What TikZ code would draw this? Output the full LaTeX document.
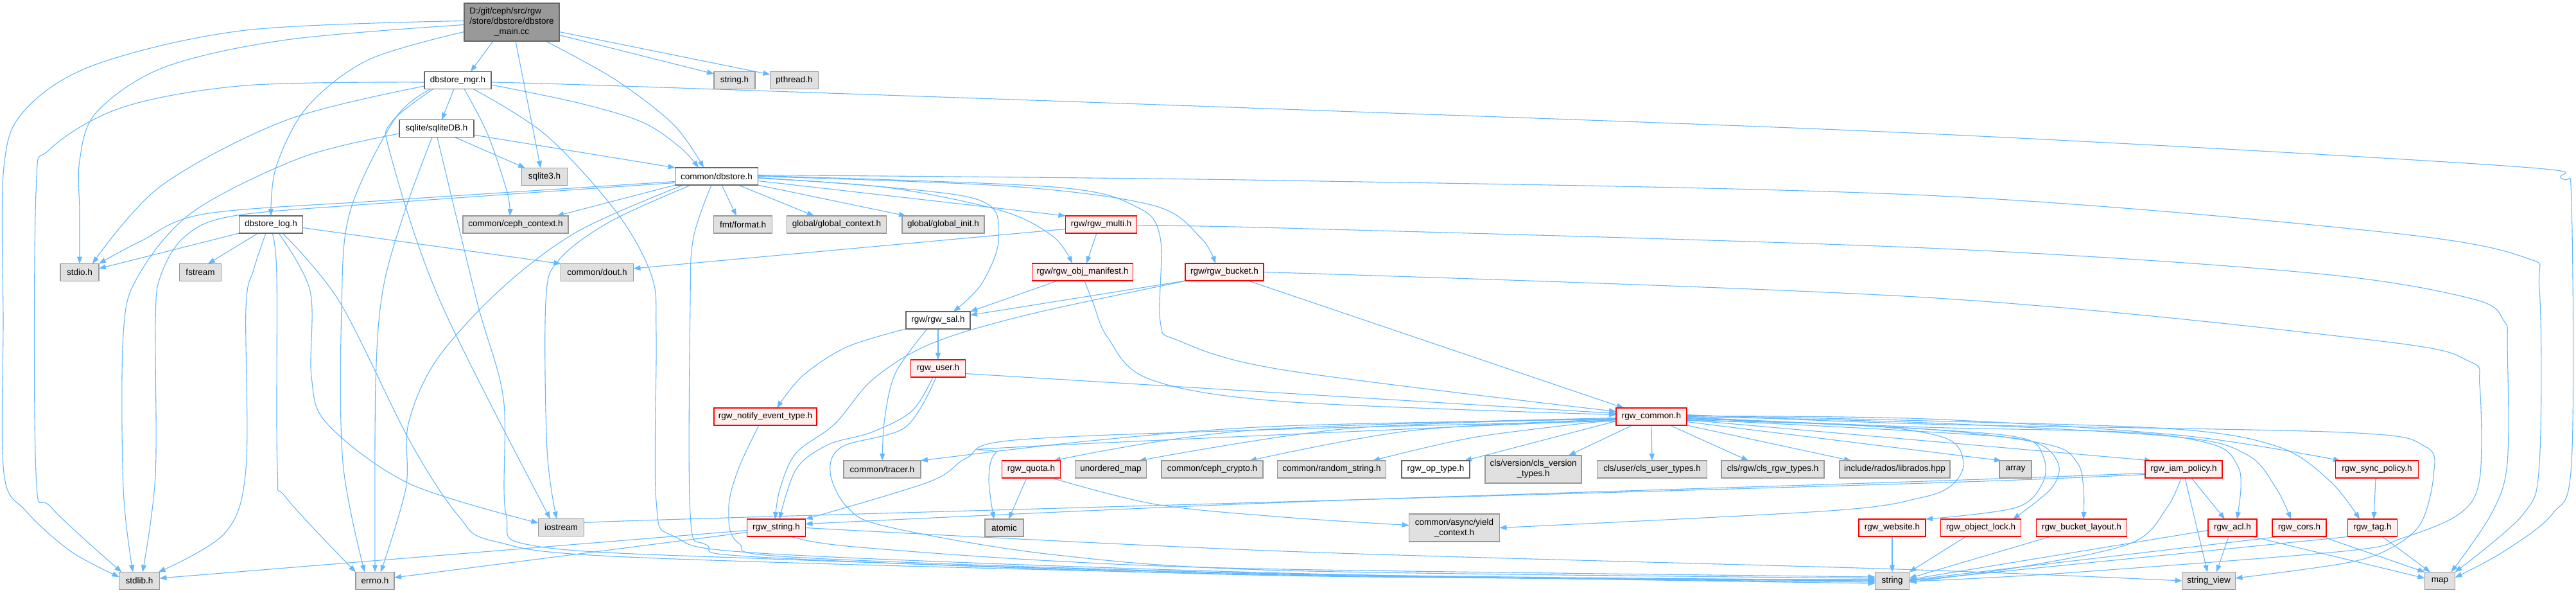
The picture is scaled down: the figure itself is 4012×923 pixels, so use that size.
\documentclass[tikz,border=0pt]{standalone}
\usepackage{fontspec}
\setmainfont{Liberation Sans}
\usetikzlibrary{arrows.meta}
\pgfdeclarelayer{bg}
\pgfdeclarelayer{edges}
\pgfsetlayers{bg,edges,main}
\definecolor{edgecol}{HTML}{63B8FF}
\definecolor{extfill}{HTML}{E0E0E0}
\definecolor{extdraw}{HTML}{999999}
\definecolor{hidfill}{HTML}{FFF0F0}
\definecolor{hiddraw}{HTML}{FF0000}
\definecolor{whtdraw}{HTML}{666666}
\definecolor{mainfill}{HTML}{999999}
\begin{document}
\begin{tikzpicture}[x=1pt,y=-1pt,
 box/.style={line width=1.4pt, minimum height=27pt, inner sep=0pt, outer sep=0pt, font=\fontsize{13.5pt}{16pt}\selectfont},
 ext/.style={box, fill=extfill, draw=extdraw},
 hid/.style={box, fill=hidfill, draw=hiddraw},
 wht/.style={box, fill=white, draw=whtdraw},
 edge/.style={draw=edgecol, line width=1.1pt, -{Triangle[length=11pt,width=8pt]}}]
\begin{pgfonlayer}{bg}
\fill[white] (0,0) rectangle (4012,923);
\end{pgfonlayer}
\useasboundingbox (0,0) rectangle (4012,923);

% ---------- nodes ----------
\node[box, fill=mainfill, draw=whtdraw, minimum width=148pt, minimum height=59pt] (main) at (797,34.5)
 {\begin{tabular}{@{}l@{}}D:/git/ceph/src/rgw\\/store/dbstore/dbstore\\\multicolumn{1}{@{}c@{}}{\_main.cc}\end{tabular}};
\node[wht, minimum width=104pt] (mgr) at (713,125) {dbstore\_mgr.h};
\node[wht, minimum width=116pt] (sqlitedb) at (680,200) {sqlite/sqliteDB.h};
\node[ext, minimum width=71pt] (sqlite3) at (848,275) {sqlite3.h};
\node[ext, minimum width=164pt] (cephctx) at (803,349.5) {common/ceph\_context.h};
\node[wht, minimum width=99pt] (dblog) at (422,349.5) {dbstore\_log.h};
\node[ext, minimum width=60pt] (stdio) at (124,424) {stdio.h};
\node[ext, minimum width=65pt] (fstream) at (312,424) {fstream};
\node[ext, minimum width=113pt] (dout) at (930,424) {common/dout.h};
\node[ext, minimum width=64pt] (stringh) at (1144,125) {string.h};
\node[ext, minimum width=75pt] (pthread) at (1237,125) {pthread.h};
\node[wht, minimum width=129pt] (dbstore) at (1116,274.5) {common/dbstore.h};
\node[ext, minimum width=91pt] (fmt) at (1157,349.5) {fmt/format.h};
\node[ext, minimum width=155pt] (gctx) at (1303,349.5) {global/global\_context.h};
\node[ext, minimum width=128pt] (ginit) at (1469,349.5) {global/global\_init.h};
\node[hid, minimum width=111pt] (multi) at (1715,349.5) {rgw/rgw\_multi.h};
\node[hid, minimum width=157pt] (manifest) at (1686,423.5) {rgw/rgw\_obj\_manifest.h};
\node[hid, minimum width=122pt] (bucket) at (1907,423.5) {rgw/rgw\_bucket.h};
\node[wht, minimum width=100pt] (sal) at (1461,498.5) {rgw/rgw\_sal.h};
\node[hid, minimum width=85pt] (user) at (1461,573.5) {rgw\_user.h};
\node[hid, minimum width=160pt] (notify) at (1192,648.5) {rgw\_notify\_event\_type.h};
\node[hid, minimum width=110pt] (common) at (2572,648.5) {rgw\_common.h};
\node[ext, minimum width=120pt] (tracer) at (1374,730.5) {common/tracer.h};
\node[hid, minimum width=91pt] (quota) at (1606,730.5) {rgw\_quota.h};
\node[ext, minimum width=111pt] (umap) at (1730,730.5) {unordered\_map};
\node[ext, minimum width=158pt] (crypto) at (1888,730.5) {common/ceph\_crypto.h};
\node[ext, minimum width=169pt] (randstr) at (2074,730.5) {common/random\_string.h};
\node[wht, minimum width=106pt] (optype) at (2236,730.5) {rgw\_op\_type.h};
\node[ext, minimum width=150pt, minimum height=43pt, align=center] (clsver) at (2388,730.5) {cls/version/cls\_version\\\_types.h};
\node[ext, minimum width=171pt] (clsuser) at (2573,730.5) {cls/user/cls\_user\_types.h};
\node[ext, minimum width=160pt] (clsrgw) at (2761,730.5) {cls/rgw/cls\_rgw\_types.h};
\node[ext, minimum width=172pt] (librados) at (2951,730.5) {include/rados/librados.hpp};
\node[ext, minimum width=50pt] (array) at (3139,730.5) {array};
\node[hid, minimum width=120pt] (iam) at (3401,730.5) {rgw\_iam\_policy.h};
\node[hid, minimum width=129pt] (syncpol) at (3702,730.5) {rgw\_sync\_policy.h};
\node[hid, minimum width=91pt] (rgwstring) at (1209,821.5) {rgw\_string.h};
\node[ext, minimum width=60pt] (atomic) at (1564,821.5) {atomic};
\node[ext, minimum width=141pt, minimum height=43pt, align=center] (yield) at (2265,821.5) {common/async/yield\\\_context.h};
\node[hid, minimum width=104pt] (website) at (2947,821.5) {rgw\_website.h};
\node[hid, minimum width=125pt] (objlock) at (3085,821.5) {rgw\_object\_lock.h};
\node[hid, minimum width=141pt] (bucketlayout) at (3242,821.5) {rgw\_bucket\_layout.h};
\node[hid, minimum width=76pt] (acl) at (3477,821.5) {rgw\_acl.h};
\node[hid, minimum width=84pt] (cors) at (3581,821.5) {rgw\_cors.h};
\node[hid, minimum width=77pt] (tag) at (3695,821.5) {rgw\_tag.h};
\node[ext, minimum width=71pt] (iostream) at (874,821) {iostream};
\node[ext, minimum width=63pt] (stdlib) at (217,904) {stdlib.h};
\node[ext, minimum width=60pt] (errno) at (584,904) {errno.h};
\node[ext, minimum width=53pt] (string) at (2947,904) {string};
\node[ext, minimum width=83pt] (sv) at (3440,904) {string\_view};
\node[ext, minimum width=47pt] (map) at (3800,904) {map};

% ---------- edges ----------
\begin{pgfonlayer}{edges}
% main
\draw[edge] plot[smooth,tension=0.55] coordinates {([yshift=2pt]main.west) (383,47) (150,100) (40,170) (6,260) (5,500) (6,736) (40,795) (110,858) ([yshift=6pt]stdlib.west)};
\draw[edge] plot[smooth,tension=0.55] coordinates {([yshift=-4pt]main.west) (446,62) (255,105) (150,175) (124,250) (124,330) (stdio.north)};
\draw[edge] plot[smooth,tension=0.55] coordinates {([yshift=-15pt]main.west) (574,93) (478,167) (430,260) (dblog.north)};
\draw[edge] ([xshift=-29pt]main.south) -- ([xshift=20pt]mgr.north);
\draw[edge] ([xshift=6pt]main.south) -- ([xshift=-6pt]sqlite3.north);
\draw[edge] plot[smooth,tension=0.55] coordinates {([xshift=53pt]main.south) (960,125) (1050,195) ([xshift=-20pt]dbstore.north)};
\draw[edge] ([yshift=-20pt]main.east) -- ([yshift=10pt]stringh.west);
\draw[edge] ([yshift=-15pt]main.east) -- ([yshift=9pt]pthread.west);
% dbstore_mgr
\draw[edge] plot[smooth,tension=0.55] coordinates {([yshift=-3pt]mgr.west) (383,133) (191,167) (77,233) (56,300) (56,736) (80,790) ([xshift=4pt]stdlib.north west)};
\draw[edge] plot[smooth,tension=0.55] coordinates {([yshift=-9pt]mgr.west) (446,187) (250,290) ([xshift=20pt]stdio.north)};
\draw[edge] plot[smooth,tension=0.55] coordinates {([xshift=-42pt]mgr.south) (615,185) (545,330) (532,480) (534,720) ([xshift=-16pt]errno.north)};
\draw[edge] plot[smooth,tension=0.55] coordinates {([xshift=-38pt]mgr.south) (610,190) (608,240) (686,470) ([xshift=-17pt]iostream.north)};
\draw[edge] ([xshift=-6pt]mgr.south) -- ([xshift=8pt]sqlitedb.north);
\draw[edge] plot[smooth,tension=0.55] coordinates {([xshift=10pt]mgr.south) (760,210) (790,300) ([xshift=-9pt]cephctx.north)};
\draw[edge] plot[smooth,tension=0.55] coordinates {([xshift=24pt]mgr.south) (850,210) (960,330) (1015,430) (1022,520) (1022,780) (1050,835) (1200,862) (2000,892) ([yshift=-4pt]string.west)};
\draw[edge] plot[smooth,tension=0.55] coordinates {([yshift=-3pt]mgr.east) (1000,135) (2000,170) (3000,208) (3900,258) (3990,278) (4005,320) (4005,720) (3975,800) (3900,858) ([yshift=5pt]map.east)};
\draw[edge] plot[smooth,tension=0.55] coordinates {([yshift=-7pt]mgr.east) (900,160) (1000,190) (1060,230) ([xshift=-28pt]dbstore.north)};
% sqliteDB
\draw[edge] plot[smooth,tension=0.55] coordinates {([yshift=-8pt]sqlitedb.west) (470,245) (300,330) (215,430) (192,520) (192,760) ([xshift=-10pt]stdlib.north)};
\draw[edge] plot[smooth,tension=0.55] coordinates {([xshift=-7pt]sqlitedb.south) (630,330) (596,453) (585,600) (errno.north)};
\draw[edge] plot[smooth,tension=0.55] coordinates {([xshift=1pt]sqlitedb.south) (743,470) (784,620) (788,800) (835,850) (1200,870) (2000,894) ([yshift=-2pt]string.west)};
\draw[edge] ([xshift=28pt]sqlitedb.south) -- ([xshift=-30pt]sqlite3.north);
\draw[edge] ([yshift=-10pt]sqlitedb.east) -- (dbstore.north west);
% dbstore_log
\draw[edge] (dblog.south west) -- ([yshift=6pt]stdio.east);
\draw[edge] ([xshift=-20pt]dblog.south) -- ([xshift=12pt]fstream.north);
\draw[edge] plot[smooth,tension=0.55] coordinates {([xshift=-8pt]dblog.south) (395,420) (383,480) (383,730) (350,830) ([xshift=-2pt]stdlib.north east)};
\draw[edge] plot[smooth,tension=0.55] coordinates {([xshift=2pt]dblog.south) (431,430) (432,730) (446,775) (errno.north west)};
\draw[edge] plot[smooth,tension=0.55] coordinates {([xshift=12pt]dblog.south) (483,453) (485,586) (510,660) (638,753) ([yshift=7pt]iostream.west)};
\draw[edge] plot[smooth,tension=0.55] coordinates {([xshift=18pt]dblog.south) (529,470) (638,686) (714,803) (772,843) (1000,868) (2000,895) (string.west)};
\draw[edge] ([yshift=-5pt]dblog.east) -- (dout.north west);
% common/dbstore.h
\draw[edge] plot[smooth,tension=0.55] coordinates {([yshift=-8pt]dbstore.west) (600,312) (319,333) (220,375) (stdio.north east)};
\draw[edge] plot[smooth,tension=0.55] coordinates {([yshift=-10pt]dbstore.west) (600,316) (364,336) (287,369) (250,430) (242,500) (242,740) ([xshift=5pt]stdlib.north)};
\draw[edge] (dbstore.south west) -- ([xshift=64pt]cephctx.north);
\draw[edge] plot[smooth,tension=0.55] coordinates {([xshift=-52pt]dbstore.south) (900,360) (780,450) (680,560) (636,660) (632,760) ([xshift=9pt]errno.north)};
\draw[edge] plot[smooth,tension=0.55] coordinates {([xshift=-40pt]dbstore.south) (950,345) (870,405) (850,470) (852,700) ([xshift=-7pt]iostream.north)};
\draw[edge] plot[smooth,tension=0.55] coordinates {([xshift=-8pt]dbstore.south) (1080,370) (1075,470) (1075,800) (1100,848) (1200,868) (2000,896) ([yshift=2pt]string.west)};
\draw[edge] ([xshift=8pt]dbstore.south) -- ([xshift=-10pt]fmt.north);
\draw[edge] ([xshift=34pt]dbstore.south) -- ([xshift=-35pt]gctx.north);
\draw[edge] (dbstore.south east) -- ([xshift=-58pt]ginit.north);
\draw[edge] ([yshift=-7pt]dbstore.east) -- (multi.north west);
\draw[edge] plot[smooth,tension=0.55] coordinates {([yshift=-3pt]dbstore.east) (1383,292) (1560,328) (1640,368) ([xshift=-16pt]manifest.north)};
\draw[edge] plot[smooth,tension=0.55] coordinates {(dbstore.east) (1574,290) (1797,320) (1870,370) ([xshift=-14pt]bucket.north)};
\draw[edge] plot[smooth,tension=0.55] coordinates {([yshift=-2pt]dbstore.east) (1510,307) (1555,367) (1530,440) ([xshift=24pt]sal.north)};
\draw[edge] plot[smooth,tension=0.55] coordinates {([yshift=1pt]dbstore.east) (1640,291) (1770,322) (1807,370) (1807,500) (1835,530) (2000,576) ([yshift=8pt]common.west)};
\draw[edge] plot[smooth,tension=0.55] coordinates {([yshift=2pt]dbstore.east) (2000,281) (3000,304) (3700,360) (3930,400) (3955,450) (3955,720) (3930,800) (map.north east)};
% rgw_multi
\draw[edge] ([yshift=-7pt]multi.west) -- ([yshift=6pt]dout.east);
\draw[edge] ([xshift=-7pt]multi.south) -- ([xshift=6pt]manifest.north);
\draw[edge] plot[smooth,tension=0.55] coordinates {([yshift=-2pt]multi.east) (2000,355) (3000,386) (3600,425) (3850,465) (3900,500) (3905,540) (3905,720) (3880,800) ([xshift=-6pt]map.north east)};
% rgw_obj_manifest
\draw[edge] ([xshift=-39pt]manifest.south) -- (sal.north east);
\draw[edge] plot[smooth,tension=0.55] coordinates {([xshift=3pt]manifest.south) (1702,470) (1725,525) (1790,590) (2000,625) ([yshift=3pt]common.west)};
% rgw_bucket
\draw[edge] (bucket.south west) -- ([yshift=8pt]sal.east);
\draw[edge] plot[smooth,tension=0.55] coordinates {([xshift=2pt]bucket.south west) (1600,490) (1450,535) (1360,590) (1300,660) (1240,705) (1215,760) ([xshift=-2pt]rgwstring.north)};
\draw[edge] ([xshift=37pt]bucket.south) -- ([xshift=-43pt]common.north);
\draw[edge] plot[smooth,tension=0.55] coordinates {(bucket.east) (3000,463) (3700,530) (3845,562) (3862,600) (3862,745) (3830,800) (3740,838) (3650,858) (3200,893) ([yshift=-1pt]string.east)};
% rgw_sal
\draw[edge] plot[smooth,tension=0.55] coordinates {(sal.south west) (1319,540) (1250,585) ([xshift=18pt]notify.north)};
\draw[edge] plot[smooth,tension=0.55] coordinates {([xshift=-17pt]sal.south) (1395,580) (1378,650) (tracer.north)};
\draw[edge] (sal.south) -- (user.north);
% rgw_user
\draw[edge] ([yshift=-8pt]user.east) -- ([yshift=5pt]common.west);
\draw[edge] plot[smooth,tension=0.55] coordinates {([xshift=-8pt]user.south) (1420,640) (1357,673) (1290,692) (1240,730) ([xshift=5pt]rgwstring.north)};
\draw[edge] plot[smooth,tension=0.55] coordinates {([xshift=-3pt]user.south) (1410,665) (1312,695) (1293,735) (1320,790) (1383,820) (1638,863) (2000,888) ([yshift=4pt]string.west)};
% rgw_notify_event_type
\draw[edge] plot[smooth,tension=0.55] coordinates {([xshift=-10pt]notify.south) (1150,730) (1135,790) (1150,845) (1250,868) (2000,893) ([yshift=1pt]string.west)};
% rgw_string
\draw[edge] ([yshift=-4pt]rgwstring.west) -- ([yshift=4pt]stdlib.east);
\draw[edge] ([yshift=-7pt]rgwstring.west) -- ([yshift=5pt]errno.east);
\draw[edge] plot[smooth,tension=0.55] coordinates {([xshift=22pt]rgwstring.south) (1319,850) (1638,873) (2000,886) ([yshift=6pt]string.west)};
\draw[edge] plot[smooth,tension=0.55] coordinates {(rgwstring.east) (2000,858) (2957,886) (sv.west)};
% rgw_quota
\draw[edge] ([xshift=-7pt]quota.south) -- ([xshift=7pt]atomic.north);
\draw[edge] plot[smooth,tension=0.55] coordinates {([xshift=32pt]quota.south) (1800,785) (2000,805) ([yshift=4pt]yield.west)};
% rgw_common fan-out
\draw[edge] plot[smooth,tension=0.55] coordinates {([yshift=-4pt]common.west) (2000,663) (1700,686) (tracer.north east)};
\draw[edge] plot[smooth,tension=0.55] coordinates {([yshift=-2pt]common.west) (1946,670) ([xshift=35pt]quota.north)};
\draw[edge] plot[smooth,tension=0.55] coordinates {([yshift=-3pt]common.west) (2100,667) ([xshift=44pt]umap.north)};
\draw[edge] plot[smooth,tension=0.55] coordinates {([yshift=-4pt]common.west) (2200,670) ([xshift=58pt]crypto.north)};
\draw[edge] plot[smooth,tension=0.55] coordinates {([yshift=-5pt]common.west) (2300,680) ([xshift=64pt]randstr.north)};
\draw[edge] ([yshift=-7pt]common.west) -- ([xshift=45pt]optype.north);
\draw[edge] ([xshift=-30pt]common.south) -- ([xshift=55pt]clsver.north);
\draw[edge] (common.south) -- (clsuser.north);
\draw[edge] ([xshift=29pt]common.south) -- ([xshift=-38pt]clsrgw.north);
\draw[edge] (common.south east) -- ([xshift=-68pt]librados.north);
\draw[edge] ([yshift=-8pt]common.east) -- ([xshift=3pt]array.north west);
\draw[edge] ([yshift=-5pt]common.east) -- ([xshift=-50pt]iam.north);
\draw[edge] plot[smooth,tension=0.55] coordinates {([yshift=1pt]common.east) (3000,652) (3400,678) ([xshift=-57pt]syncpol.north)};
\draw[edge] plot[smooth,tension=0.55] coordinates {([yshift=-2pt]common.east) (3000,665) (3320,673) (3450,693) (3485,725) (3490,760) ([xshift=7pt]acl.north)};
\draw[edge] plot[smooth,tension=0.55] coordinates {(common.east) (3000,658) (3390,680) (3500,708) (3545,760) ([xshift=-13pt]cors.north)};
\draw[edge] plot[smooth,tension=0.55] coordinates {([yshift=2pt]common.east) (3000,655) (3390,668) (3550,696) (3630,750) ([xshift=-20pt]tag.north)};
\draw[edge] plot[smooth,tension=0.55] coordinates {([yshift=-3pt]common.east) (3000,668) (3190,692) (3235,720) (3245,760) ([xshift=3pt]bucketlayout.north)};
\draw[edge] plot[smooth,tension=0.55] coordinates {([yshift=-4pt]common.east) (3000,672) (3160,686) (3205,720) (3195,760) ([xshift=50pt]objlock.north)};
\draw[edge] plot[smooth,tension=0.55] coordinates {([yshift=-1pt]common.east) (3000,668) (3150,682) (3182,710) (3182,750) (3140,790) (website.north east)};
\draw[edge] plot[smooth,tension=0.55] coordinates {([yshift=-6pt]common.east) (2900,662) (3030,682) (3058,720) (3040,755) (2990,775) (2850,795) (yield.east)};
\draw[edge] plot[smooth,tension=0.55] coordinates {([yshift=-7pt]common.west) (2000,668) (1580,685) (1505,713) (1447,750) (rgwstring.north east)};
\draw[edge] plot[smooth,tension=0.55] coordinates {([yshift=-5pt]common.west) (1600,695) (1551,705) (1540,745) ([xshift=-16pt]atomic.north)};
\draw[edge] plot[smooth,tension=0.55] coordinates {([yshift=3pt]common.east) (3000,660) (3650,673) (3777,695) (3790,740) (3770,815) (3720,855) (3650,877) ([yshift=4pt]sv.east)};
% rgw_iam_policy
\draw[edge] plot[smooth,tension=0.55] coordinates {([yshift=-6pt]iam.west) (3000,749) (2000,782) ([yshift=6pt]rgwstring.east)};
\draw[edge] plot[smooth,tension=0.55] coordinates {([yshift=-8pt]iam.west) (3000,752) (2000,781) (1000,810) ([yshift=5pt]iostream.east)};
\draw[edge] plot[smooth,tension=0.55] coordinates {([xshift=-4pt]iam.south) (3375,790) (3320,845) (3150,882) ([yshift=-2pt]string.east)};
\draw[edge] ([xshift=2pt]iam.south) -- ([xshift=-2pt]sv.north);
\draw[edge] ([xshift=12pt]iam.south) -- ([xshift=-12pt]acl.north);
% rgw_sync_policy
\draw[edge] ([xshift=-2pt]syncpol.south) -- ([xshift=2pt]tag.north);
% leaves of rgw_common
\draw[edge] ([yshift=-4pt]acl.west) -- ([yshift=2pt]string.east);
\draw[edge] ([xshift=-6pt]acl.south) -- ([xshift=12pt]sv.north);
\draw[edge] ([xshift=30pt]acl.south) -- ([yshift=4pt]map.west);
\draw[edge] ([xshift=-29pt]cors.south) -- ([yshift=1pt]string.east);
\draw[edge] ([xshift=35pt]cors.south) -- (map.north west);
\draw[edge] ([xshift=-34pt]tag.south) -- (string.east);
\draw[edge] ([xshift=15pt]tag.south) -- ([xshift=-15pt]map.north);
\draw[edge] (website.south) -- (string.north);
\draw[edge] ([xshift=-23pt]objlock.south) -- (string.north east);
\draw[edge] ([xshift=-48pt]bucketlayout.south) -- ([yshift=4pt]string.east);
\end{pgfonlayer}
\end{tikzpicture}
\end{document}
